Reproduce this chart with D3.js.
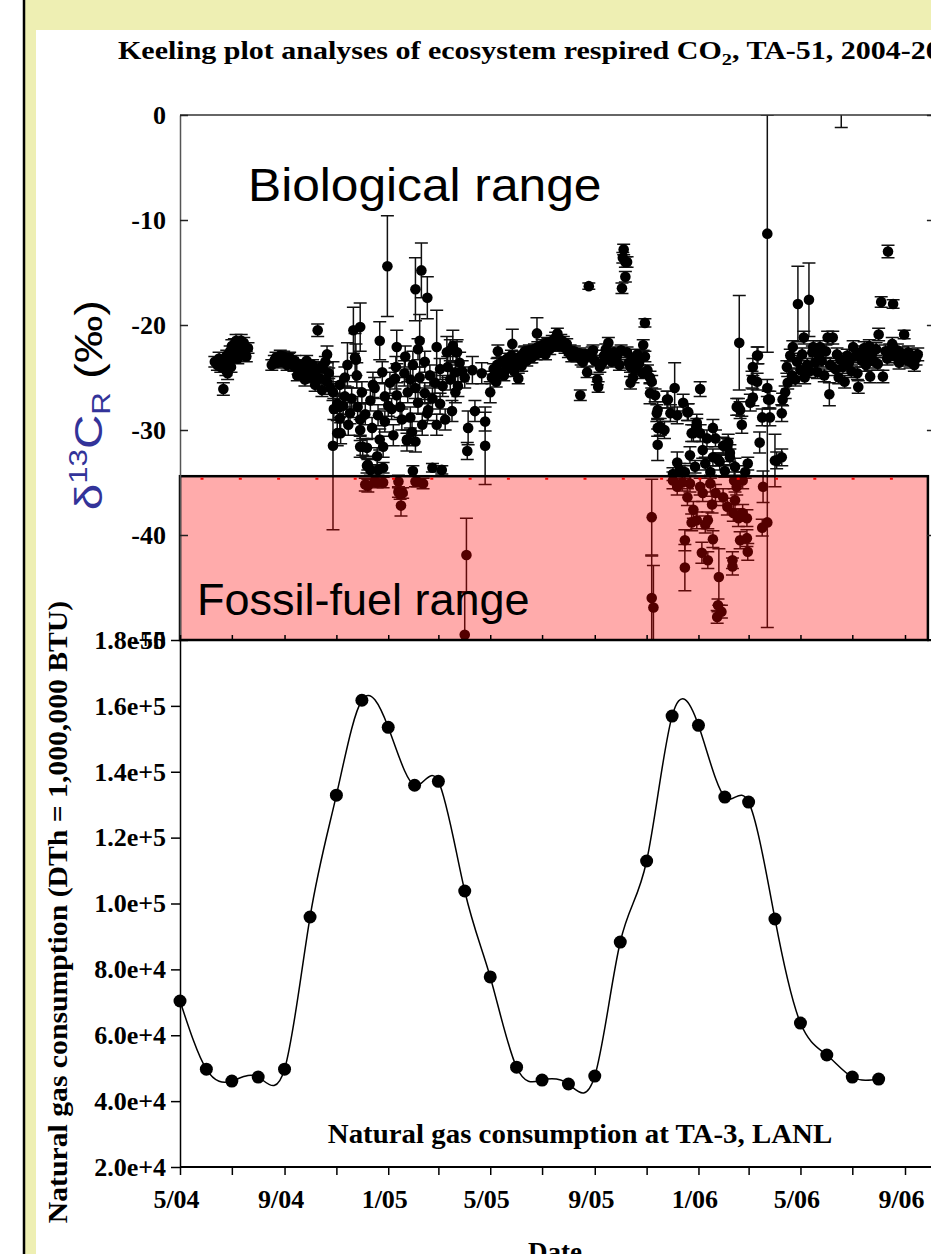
<!DOCTYPE html>
<html>
<head>
<meta charset="utf-8">
<script src="https://cdn.jsdelivr.net/npm/d3@7"></script>
<style>
  body { margin: 0; background: #fff; overflow: hidden; }
  svg { display: block; }
  text { font-family: "Liberation Serif", "Times New Roman", serif; font-weight: bold; }
</style>
</head>
<body>
<div id="chart"></div>
<script>
// ---- data ----
// Keeling plot intercepts: [days since 1 May 2004, delta13C (permil), error]
const obsSummer04 = [
  [41,-23.5,.5],[44,-23.8,.5],[46,-23.2,.6],[48,-24.0,.5],[51,-26.1,.6],[52,-23.6,.5],[54,-24.3,.5],[55,-22.9,.5],
  [56,-24.6,.6],[58,-23.4,.5],[59,-22.5,.5],[60,-24.0,.5],[61,-22.0,.6],[62,-23.1,.5],[64,-21.8,.5],[65,-22.6,.5],
  [66,-21.5,.6],[67,-22.4,.5],[68,-23.2,.5],[69,-21.9,.5],[71,-22.3,.5],[72,-21.5,.6],[74,-22.8,.5],[75,-21.7,.5],
  [78,-23.0,.5],[80,-22.2,.5],
  [108,-23.8,.5],[111,-23.4,.5],[113,-23.1,.5],[114,-23.6,.5],[116,-23.3,.5],[118,-22.9,.5],[120,-23.5,.5],[122,-23.0,.5],
  [125,-23.3,.5],[126,-23.8,.5],[128,-23.2,.5],[129,-23.1,.5],[132,-23.6,.5],[134,-23.9,.5],[135,-23.4,.5],[138,-24.8,.5],
  [139,-24.2,.5],[141,-23.8,.5],[144,-24.5,.5],[146,-24.0,.5],[147,-25.2,.6],[149,-23.4,.5],[151,-24.6,.5],[153,-24.4,.5],
  [155,-25.0,.5],[156,-23.8,.5],[159,-25.7,.6],[160,-24.3,.5],[162,-20.5,.6],[165,-25.1,.5],[166,-24.0,.5],[167,-26.2,.6],
  [168,-24.1,.5],[171,-23.5,.5],[173,-22.8,.8],[173,-25.4,.6],[175,-24.6,.5],[177,-26.0,.6]
];
const obsWinter0405 = [
  [180,-31.5,8.0],[180,-26.4,.8],[181,-28.0,1.0],[185,-30.3,1.2],[185,-27.5,.9],[188,-28.9,1.5],[188,-25.7,.8],[188,-27.8,1.0],
  [189,-30.3,1.0],[192,-27.7,1.0],[194,-25.0,1.0],[194,-26.8,1.0],[197,-23.8,2.1],[198,-29.5,1.0],[200,-28.4,1.0],[202,-27.0,1.0],
  [204,-20.5,2.2],[206,-23.1,2.3],[207,-23.3,1.5],[208,-24.8,1.2],[209,-27.8,1.0],[212,-20.2,2.3],[212,-29.0,1.5],[212,-30.0,1.0],
  [212,-31.6,1.0],[214,-26.4,1.0],[215,-31.6,.8],[218,-35.2,.6],[218,-28.5,1.0],[220,-33.4,.7],[220,-31.7,.8],[221,-33.3,.5],
  [221,-35.3,.6],[224,-33.8,.5],[224,-27.2,1.0],[226,-29.8,1.0],[227,-25.7,1.2],[229,-34.9,.5],[229,-26.0,1.0],[232,-32.5,.8],
  [232,-35.0,.5],[233,-33.8,.5],[233,-28.6,1.0],[235,-21.5,1.8],[235,-30.9,1.0],[238,-24.5,1.0],[239,-31.6,1.0],[239,-33.6,.5],
  [239,-35.0,.5],[241,-26.8,1.2],[241,-29.2,1.0],[244,-14.4,4.8],[245,-27.7,1.0],[247,-25.5,1.0],[249,-28.0,1.0],[251,-30.5,1.0],
  [253,-25.1,1.0],[254,-24.0,1.0],[255,-22.1,1.6],[255,-26.7,1.2],[257,-34.9,.6],[257,-35.9,.5],[259,-36.1,.5],[259,-27.8,1.0],
  [260,-37.2,1.0],[261,-29.0,1.0],[262,-36.0,.5],[264,-24.6,1.2],[265,-23.0,1.0],[267,-30.9,.6],[267,-31.0,1.0],[268,-26.4,1.0],
  [271,-25.2,1.0],[271,-28.8,1.0],[273,-30.2,1.0],[274,-23.8,1.3],[274,-33.9,.5],[277,-16.6,3.0],[277,-31.1,1.0],[277,-34.9,.5],
  [277,-26.0,1.0],[279,-34.9,.5],[280,-22.3,1.0],[280,-27.4,1.0],[282,-21.5,2.5],[282,-25.0,1.0],[284,-14.8,2.6],[285,-29.5,1.0],
  [286,-35.1,.5],[288,-23.5,1.0],[288,-26.5,1.0],[291,-17.4,2.0],[291,-28.4,1.0],[292,-28.1,1.0],[294,-24.8,1.0],[297,-33.6,.4],
  [297,-27.0,1.0],[300,-25.5,1.0],[302,-22.1,3.5],[302,-29.5,1.0],[306,-24.2,1.0],[306,-27.5,1.0],[308,-33.8,.4],[309,-25.8,1.0],
  [312,-29.0,1.0],[314,-22.6,1.5],[315,-24.0,1.0],[318,-22.4,1.0],[318,-25.2,1.0],[320,-28.2,1.0],[321,-22.0,1.5],[324,-26.4,1.0],
  [324,-24.5,1.0],[325,-22.6,1.0],[326,-22.6,1.2],[327,-25.8,1.0],[329,-23.6,1.0],[332,-24.4,1.0],[335,-49.5,4.0],[335,-25.0,1.0],
  [337,-41.9,3.5],[338,-32.0,.8],[339,-29.8,1.6],[344,-24.3,1.3],[347,-28.2,1.0],[355,-24.6,1.0],[359,-29.2,.9],[359,-31.5,3.7],
  [365,-26.4,1.0]
];
const obsSpring05 = [
  [367,-25.0,.6],[369,-24.2,.5],[372,-25.4,.5],[373,-23.8,.6],[374,-22.5,.6],[377,-24.6,.5],[379,-23.5,.5],[381,-24.8,.5],
  [382,-24.4,.5],[385,-23.2,.5],[387,-24.0,.5],[390,-22.9,.5],[391,-21.8,1.4],[391,-23.8,.5],[393,-24.4,.5],[395,-23.3,.5],
  [398,-25.1,.5],[400,-23.0,.5],[402,-23.9,.5],[405,-22.6,.5],[406,-22.5,.5],[408,-23.4,.5],[411,-22.4,.5],[413,-23.1,.5],
  [414,-23.1,.5],[417,-22.3,.5],[419,-22.8,.5],[420,-20.8,1.5],[421,-22.1,.5],[424,-22.6,.5],[426,-21.9,.5],[428,-22.3,.5],
  [430,-22.8,.5],[432,-21.7,.5],[433,-21.8,.5],[435,-22.3,.5],[438,-21.5,.5],[440,-22.0,.5],[442,-21.2,.5],[444,-20.8,.5],
  [446,-22.0,.5]
];
const obsSummer05 = [
  [448,-21.4,.5],[451,-21.6,.5],[453,-22.2,.5],[455,-21.8,.5],[457,-22.6,.5],[459,-22.4,.5],[461,-23.0,.5],[464,-22.5,.5],
  [465,-22.9,.5],[467,-23.0,.5],[470,-22.7,.5],[471,-26.7,.5],[472,-23.3,.5],[474,-23.5,.5],[477,-22.8,.5],[479,-24.5,.5],
  [481,-16.3,.3],[482,-23.0,.5],[485,-22.6,.5],[486,-22.4,.5],[488,-23.4,.5],[491,-25.2,.5],[492,-25.9,.5],[494,-24.0,.5],
  [497,-23.6,.5],[499,-22.9,.5],[501,-22.3,.5],[504,-21.7,.5],[506,-22.8,.5],[508,-23.5,.5],[511,-22.6,.5],[514,-23.0,.5],
  [517,-23.8,.5],[519,-22.4,.5],[520,-16.5,.5],[521,-13.6,.5],[522,-12.8,.5],[524,-14.0,.5],[524,-15.4,.5],[526,-22.6,.5],
  [526,-14.0,.5],[528,-23.6,.5],[530,-24.0,.5],[530,-25.5,.6],[532,-23.2,.5],[533,-25.0,.5],[535,-24.2,.5],[538,-22.8,.5],
  [540,-23.7,.5],[541,-23.3,.5],[544,-24.6,.5],[545,-21.9,.5],[547,-19.8,.4],[547,-23.0,.5],[550,-24.3,.5],[553,-25.0,.6]
];
const obsWinter0506 = [
  [553,-26.5,1.0],[555,-25.4,.6],[559,-26.7,.6],[561,-28.4,.8],[562,-28.1,.8],[562,-29.8,.8],[565,-29.7,.8],[562,-31.4,1.5],
  [570,-30.0,.8],[573,-27.1,.8],[574,-27.1,.8],[577,-28.4,.8],[582,-26.0,2.4],[585,-28.6,.8],[585,-33.1,1.0],[592,-27.4,.8],
  [597,-28.3,.8],[598,-28.3,.8],[600,-32.4,.8],[602,-30.3,.8],[604,-30.3,.8],[608,-29.7,.8],[608,-29.3,.8],[612,-26.1,.7],
  [612,-30.3,.8],[615,-31.9,.8],[620,-30.8,.8],[627,-29.8,.8],[627,-32.6,.8],[630,-30.8,.8],[635,-33.0,.8],[639,-31.5,.8],
  [644,-31.6,.8],[645,-31.2,.8],[647,-32.6,.8],[647,-32.2,.8],[653,-33.5,.8],[655,-27.8,.8],[657,-27.8,.8],[658,-21.7,4.5],
  [659,-28.1,.8],[661,-29.5,.8],[671,-27.4,.8],[673,-25.2,.8],[674,-24.0,.8],[674,-26.9,.8],[679,-22.9,.8],[679,-25.4,.8],
  [680,-22.9,.8],[682,-31.2,1.0],[685,-28.8,.8],[691,-26.0,.8],[691,-11.3,11.3],[692,-27.1,.8],[694,-27.1,.8],[694,-28.8,.8],
  [700,-32.9,2.5],[702,-32.9,.8],[708,-32.6,.8],[708,-28.4,.8],
  [580,-34.2,.6],[588,-33.8,.6],[594,-34.0,.6],[606,-33.5,.6],[618,-33.2,.6],[624,-34.0,.6],[633,-32.8,.6],[641,-33.9,.6],
  [665,-34.0,.6],[668,-33.2,.6],
  [555,-38.3,3.6],[555,-46.0,4.0],[557,-46.9,4.0],[580,-34.8,.8],[585,-35.4,.8],[591,-35.0,.8],[594,-40.5,1.0],[594,-43.1,2.2],
  [597,-36.4,.8],[600,-35.1,.8],[602,-38.8,.8],[604,-37.6,.8],[608,-38.6,.8],[612,-35.4,.8],[614,-41.7,1.0],[615,-36.0,.8],
  [618,-39.0,.8],[621,-38.6,.8],[621,-42.4,.8],[624,-35.1,.8],[626,-37.1,.8],[627,-40.4,.8],[630,-36.0,.8],[632,-47.8,.6],
  [633,-46.7,.6],[634,-44.0,2.7],[637,-47.3,.6],[639,-36.4,.8],[644,-37.3,.8],[650,-42.4,.8],[650,-43.0,.8],[651,-37.9,.8],
  [652,-34.8,.8],[653,-36.7,.8],[655,-35.4,.8],[657,-38.4,.8],[659,-40.5,.8],[662,-37.9,.8],[662,-34.8,.8],[667,-38.4,.8],
  [667,-40.3,.8],[668,-41.6,.8],[685,-39.3,.8],[686,-35.4,1.5],[691,-38.8,10.0]
];
const obsSpring06 = [
  [709,-27.1,.6],[712,-26.4,.6],[714,-24.0,.6],[715,-25.5,.6],[718,-22.9,.6],[720,-24.8,.6],[721,-22.1,.6],[724,-25.2,.6],
  [726,-23.5,.6],[727,-18.0,3.6],[730,-24.3,.6],[732,-22.8,.6],[734,-21.2,.6],[735,-25.0,.6],[738,-23.8,.6],[740,-17.6,3.5],
  [741,-24.4,.6],[744,-22.6,.6],[745,-22.1,.6],[747,-23.6,.6],[750,-24.5,.6],[752,-22.9,.6],[753,-22.1,.6],[755,-23.4,.6],
  [758,-24.8,.6],[760,-22.5,.6],[762,-21.2,.6],[764,-26.6,1.1],[765,-23.8,.6],[768,-21.2,.6],[771,-24.2,.6],[773,-22.8,.6],
  [775,-25.0,.6],[777,-23.3,.6],[778,1.5,2.7],[780,-24.0,.6],[782,-25.4,.6],[785,-22.9,.6],[787,-23.6,.6],[790,-24.4,.6],
  [792,-22.1,.6],[794,-23.0,.6],[797,-24.6,.6],[798,-25.9,.6],[800,-22.6,.6],[802,-23.4,.6],[805,-22.2,.6],[807,-23.8,.6],
  [808,-23.1,.6],[811,-22.0,.6],[812,-24.9,.6],[814,-22.8,.6],[817,-23.5,.6],[819,-22.3,.6],[821,-23.7,.6],[822,-20.9,.6],
  [825,-17.8,.5],[827,-24.9,.6],[830,-22.5,.6],[832,-23.2,.6],[833,-13.0,.6],[835,-22.4,.6],[838,-21.8,.6],[839,-18.0,.4],
  [841,-23.0,.6],[844,-22.4,.6],[846,-23.6,.6],[847,-23.1,.6],[850,-22.7,.6],[852,-20.9,.4],[854,-23.3,.6],[857,-22.6,.6],
  [859,-23.5,.6],[861,-22.9,.6],[864,-23.8,.6],[866,-23.2,.6],[868,-22.8,.6]
];

// monthly natural gas consumption at TA-3 (DTh)
const gasMonths = ["2004-05","2004-06","2004-07","2004-08","2004-09","2004-10","2004-11","2004-12",
                   "2005-01","2005-02","2005-03","2005-04","2005-05","2005-06","2005-07","2005-08",
                   "2005-09","2005-10","2005-11","2005-12","2006-01","2006-02","2006-03","2006-04",
                   "2006-05","2006-06","2006-07","2006-08"];
const gasUse = [70400, 49700, 46100, 47300, 49700, 95900, 132900, 161700,
                153500, 135900, 137100, 103800, 77700, 50300, 46400, 45200,
                47600, 88300, 112900, 156900, 154100, 132300, 130800, 95300,
                63700, 54000, 47300, 46700];

const d13cTicks = [0, -10, -20, -30, -40, -50];
const gasTicks = [2e4, 4e4, 6e4, 8e4, 1e5, 1.2e5, 1.4e5, 1.6e5, 1.8e5];
const fossilTop = -34.4;   // upper limit of the fossil-fuel range
const fossilLine = -34.65;

// ---- layout ----
const W = 931, H = 1254;
const start = new Date(2004, 4, 1);
const parseMonth = d3.timeParse("%Y-%m");

const x = d3.scaleTime().domain([start, new Date(2006, 8, 1)]).range([180, 905]);
const xRight = x(d3.timeDay.offset(new Date(2006, 8, 1), 34));
const yTop = d3.scaleLinear().domain([-50, 0]).range([640, 115]);
const yGas = d3.scaleLinear().domain([2e4, 1.8e5]).range([1167, 640]);

const svg = d3.select("#chart").append("svg").attr("width", W).attr("height", H);

// slide background
svg.append("rect").attr("x", 25).attr("y", 0).attr("width", W - 25).attr("height", H).attr("fill", "#eeefb3");
svg.append("rect").attr("x", 36).attr("y", 30).attr("width", W - 36).attr("height", H - 30).attr("fill", "#fff");
svg.append("line").attr("x1", 24).attr("x2", 24).attr("y1", 0).attr("y2", H)
  .attr("stroke", "#000").attr("stroke-width", 2.5);

// ---- top panel: Keeling plot intercepts ----
const x0 = x(start);
svg.append("clipPath").attr("id", "topClip").append("rect")
  .attr("x", x0).attr("y", yTop(0)).attr("width", xRight - x0).attr("height", yTop(-50) - yTop(0));

const obs = [obsSummer04, obsWinter0405, obsSpring05, obsSummer05, obsWinter0506, obsSpring06].flat()
  .map(([d, v, e]) => ({ date: d3.timeDay.offset(start, d), v, e }));

const plot = svg.append("g").attr("clip-path", "url(#topClip)");
plot.append("g").attr("stroke", "#111").attr("stroke-width", 1.5).attr("fill", "none")
  .selectAll("path").data(obs).join("path")
  .attr("d", d => {
    const cx = x(d.date), y1 = yTop(d.v + d.e), y2 = yTop(d.v - d.e);
    return `M${cx},${y1}V${y2}M${cx - 6.5},${y1}h13M${cx - 6.5},${y2}h13`;
  });
plot.append("g").attr("fill", "#000")
  .selectAll("circle").data(obs).join("circle")
  .attr("cx", d => x(d.date)).attr("cy", d => yTop(d.v)).attr("r", 5.3);

// fossil-fuel range box
svg.append("rect")
  .attr("x", x0).attr("y", yTop(fossilTop))
  .attr("width", xRight - 6 - x0).attr("height", yTop(-50) - yTop(fossilTop))
  .attr("fill", "#ff0000").attr("fill-opacity", 0.33)
  .attr("stroke", "#000").attr("stroke-width", 2.5);
svg.append("line")
  .attr("x1", x0 + 20.5).attr("x2", xRight - 8)
  .attr("y1", yTop(fossilLine)).attr("y2", yTop(fossilLine))
  .attr("stroke", "#ff0000").attr("stroke-width", 2).attr("stroke-dasharray", "3,35.3");

// top panel axes
svg.append("line").attr("x1", x0).attr("x2", W).attr("y1", yTop(0)).attr("y2", yTop(0))
  .attr("stroke", "#333").attr("stroke-width", 1.5);

const leftTop = svg.append("g").attr("transform", `translate(${x0},0)`)
  .call(d3.axisLeft(yTop).tickValues(d13cTicks).tickSizeInner(-8).tickSizeOuter(0).tickPadding(14)
    .tickFormat(d => String(d)));
leftTop.select(".domain").attr("stroke", "#555").attr("stroke-width", 1.5);
leftTop.selectAll(".tick line").attr("stroke", "#222").attr("stroke-width", 1.5);

const rightTop = svg.append("g").attr("transform", `translate(${xRight},0)`)
  .call(d3.axisRight(yTop).tickValues(d13cTicks).tickSizeInner(-7).tickSizeOuter(0).tickFormat(""));
rightTop.selectAll(".tick line").attr("stroke", "#222").attr("stroke-width", 1.5);

const monthTicks = d3.timeMonth.range(start, new Date(2006, 9, 2), 2);
const bottomTop = svg.append("g").attr("transform", `translate(0,${yTop(-50)})`)
  .call(d3.axisBottom(x).tickValues(monthTicks).tickSizeInner(-5).tickSizeOuter(0).tickFormat(""));
bottomTop.select(".domain").attr("d", `M${x0},0H${W}`).attr("stroke-width", 2);
bottomTop.selectAll(".tick line").attr("stroke-width", 1.5);

// ---- bottom panel: natural gas ----
const gas = gasMonths.map((m, i) => ({ date: parseMonth(m), v: gasUse[i] }));
svg.append("path").datum(gas)
  .attr("fill", "none").attr("stroke", "#000").attr("stroke-width", 1.5)
  .attr("d", d3.line().x(d => x(d.date)).y(d => yGas(d.v)).curve(d3.curveNatural));
svg.append("g").selectAll("circle").data(gas).join("circle")
  .attr("cx", d => x(d.date)).attr("cy", d => yGas(d.v)).attr("r", 6.5).attr("fill", "#000");

const leftGas = svg.append("g").attr("transform", `translate(${x0},0)`)
  .call(d3.axisLeft(yGas).tickValues(gasTicks).tickSizeInner(9).tickSizeOuter(0).tickPadding(5)
    .tickFormat(d3.format(".1e")));
leftGas.select(".domain").attr("stroke-width", 1.5);
leftGas.selectAll(".tick line").attr("stroke-width", 1.5);

const fmtMonth = d => (d.getMonth() % 4 === 0) ? `${d.getMonth() + 1}/${String(d.getFullYear()).slice(2)}` : "";
const bottomGas = svg.append("g").attr("transform", `translate(0,${yGas(2e4)})`)
  .call(d3.axisBottom(x).tickValues(monthTicks.filter(d => d <= new Date(2006, 8, 1)))
    .tickSizeInner(8).tickSizeOuter(0).tickPadding(15).tickFormat(fmtMonth));
bottomGas.select(".domain").attr("d", `M${x0},0H${W}`).attr("stroke-width", 2);
bottomGas.selectAll(".tick line").attr("stroke-width", 1.5);
bottomGas.selectAll(".tick text").attr("dx", -4);

// tick label fonts
svg.selectAll(".tick text")
  .style("font-family", '"Liberation Serif", "Times New Roman", serif')
  .style("font-weight", "bold").style("font-size", "26px").attr("fill", "#000");

// ---- text ----
const title = svg.append("text").attr("transform", "translate(118,59) scale(1.2,1)").attr("font-size", 25);
title.append("tspan").text("Keeling plot analyses of ecosystem respired CO");
title.append("tspan").attr("font-size", 17).attr("dy", 6).text("2");
title.append("tspan").attr("dy", -6).text(", TA-51, 2004-2006");

svg.append("text").attr("transform", "translate(248,201) scale(1.08,1)")
  .style("font-family", '"Liberation Sans", Arial, sans-serif').style("font-weight", "normal")
  .attr("font-size", 46).text("Biological range");
svg.append("text").attr("transform", "translate(197,615)")
  .style("font-family", '"Liberation Sans", Arial, sans-serif').style("font-weight", "normal")
  .attr("font-size", 45).text("Fossil-fuel range");

const dLab = svg.append("text").attr("transform", "translate(102,405) rotate(-90) scale(1.25,1)")
  .attr("text-anchor", "middle")
  .style("font-family", '"Liberation Sans", Arial, sans-serif').style("font-weight", "normal")
  .attr("font-size", 38);
dLab.append("tspan").attr("fill", "#333399").text("δ");
dLab.append("tspan").attr("fill", "#333399").attr("font-size", 25).attr("dy", -15).text("13");
dLab.append("tspan").attr("fill", "#333399").attr("dy", 15).text("C");
dLab.append("tspan").attr("fill", "#333399").attr("font-size", 25).attr("dy", 8).text("R");
dLab.append("tspan").attr("fill", "#000").attr("dy", -8).text(" (‰)");

svg.append("text").attr("transform", "translate(67,912) rotate(-90) scale(1.1,1)")
  .attr("text-anchor", "middle").attr("font-size", 27)
  .text("Natural gas consumption (DTh = 1,000,000 BTU)");

svg.append("text").attr("transform", "translate(580,1143) scale(1.07,1)")
  .attr("text-anchor", "middle").attr("font-size", 27)
  .text("Natural gas consumption at TA-3, LANL");

svg.append("text").attr("transform", "translate(555,1261)")
  .attr("text-anchor", "middle").attr("font-size", 27).text("Date");
</script>
</body>
</html>
